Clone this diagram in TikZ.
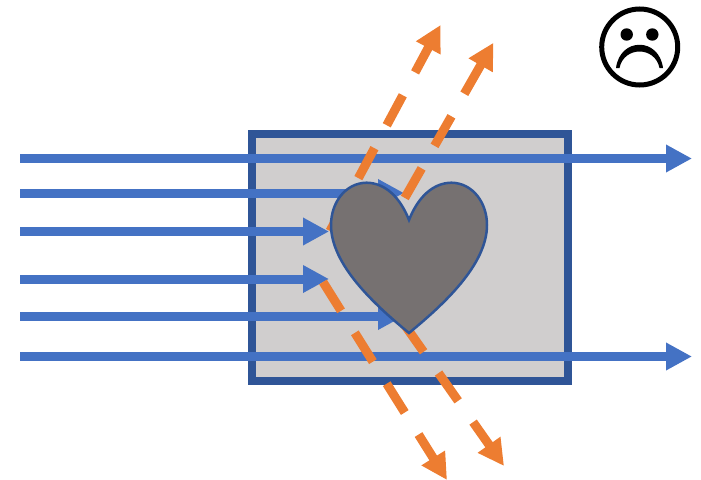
\documentclass[tikz,border=0pt]{standalone}
\usetikzlibrary{arrows.meta}
\definecolor{blueline}{HTML}{4472C4}
\definecolor{orangeline}{HTML}{ED7D31}
\definecolor{darkblue}{HTML}{2F5597}
\definecolor{boxfill}{HTML}{D0CECE}
\definecolor{heartfill}{HTML}{767171}
\tikzset{
  beam/.style={draw=blueline,line width=9pt,-{Triangle[length=26pt,width=26pt]}},
  scatter/.style={draw=orangeline,line width=9pt,dash pattern=on 34pt off 26pt,-{Triangle[length=26pt,width=26pt]}},
}
\begin{document}
\begin{tikzpicture}[x=1pt,y=-1pt]
\useasboundingbox (0,0) rectangle (701,479);
\draw[darkblue,fill=boxfill,line width=8.3pt] (252,134) rectangle (568,381);
% blue beams
\draw[beam] (20,158.5) -- (692,158.5);
\draw[beam] (20,193) -- (404,193);
\draw[beam] (20,231.5) -- (329,231.5);
\draw[beam] (20,279) -- (329,279);
\draw[beam] (20,316) -- (404,316);
\draw[beam] (20,356.5) -- (692,356.5);
% orange scattered
\draw[scatter] (330,231) -- (440.5,25);
\draw[scatter] (375,250) -- (493.5,42.7);
\draw[scatter] (323,282) -- (447,480);
\draw[scatter] (404,324) -- (504,466);
% heart
\draw[draw=darkblue,fill=heartfill,line width=2.5pt,line join=miter]
  (409,220) .. controls (400,197) and (385,183) .. (366.7,182.7)
  .. controls (345,183) and (331,203) .. (331,225)
  .. controls (331,265) and (375,305) .. (409,333)
  .. controls (443,305) and (487,265) .. (487,225)
  .. controls (487,203) and (473,183) .. (451.3,182.7)
  .. controls (433,183) and (418,197) .. (409,220) -- cycle;
% sad face
\draw[black,line width=5pt] (639.7,47) circle (38);
\fill[black] (626.7,34.5) circle (6.2) (652.3,34.5) circle (6.2);
\fill[black] (616,68) .. controls (620,37) and (659,37) .. (663,68)
  -- (659.5,68) .. controls (655,46) and (624,46) .. (619.5,68) -- cycle;
\end{tikzpicture}
\end{document}
